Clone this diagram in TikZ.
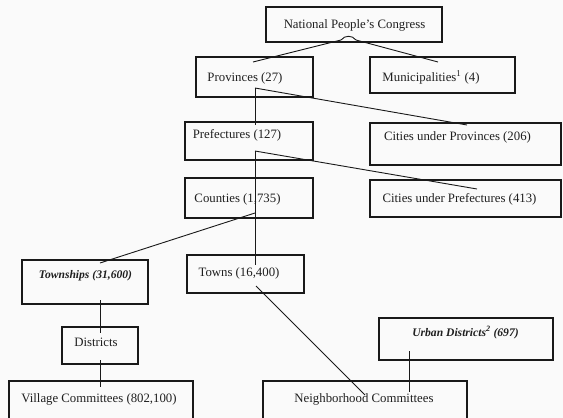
\documentclass[tikz,border=0pt]{standalone}
\usepackage{fontspec}
\setmainfont{Liberation Serif}
\begin{document}
\begin{tikzpicture}[x=1pt,y=-1pt,
  box/.style={draw=black!90, line width=1.1pt, fill=none, inner sep=0pt},
  lbl/.style={inner sep=0pt, anchor=center, text height=0.66em, text depth=0pt, text=black!88, font=\fontsize{12.8}{14}\selectfont},
  lbli/.style={lbl, font=\fontsize{11.6}{13}\selectfont\bfseries\itshape},
  conn/.style={draw=black!90, line width=0.9pt}]
\clip (0,0) rectangle (563,418);
\fill[black!2] (0,0) rectangle (563,418);
% boxes
\node[box, minimum width=176pt, minimum height=35pt] (npc) at (354,24.5) {};
\node[box, minimum width=117pt, minimum height=40pt] (prov) at (254.5,77) {};
\node[box, minimum width=145pt, minimum height=36pt] (muni) at (442.5,75) {};
\node[box, minimum width=128pt, minimum height=38pt] (pref) at (249,141) {};
\node[box, minimum width=191pt, minimum height=42pt] (cprov) at (465.5,144) {};
\node[box, minimum width=128pt, minimum height=40pt] (cnty) at (249,198) {};
\node[box, minimum width=191pt, minimum height=37pt] (cpref) at (465.5,198.5) {};
\node[box, minimum width=126pt, minimum height=44pt] (twp) at (85,282) {};
\node[box, minimum width=117pt, minimum height=38pt] (towns) at (245.5,274) {};
\node[box, minimum width=76pt, minimum height=37pt] (dist) at (100,345.5) {};
\node[box, minimum width=184pt, minimum height=49pt] (vill) at (101,405.5) {};
\node[box, minimum width=204pt, minimum height=49pt] (nbhd) at (365,405.5) {};
\node[box, minimum width=174pt, minimum height=42pt] (urban) at (466,339) {};
% labels
\node[lbl] (tnpc) at (354.5,25) {National People's Congress};
\node[lbl] (tprov) at (245,78) {Provinces (27)};
\node[lbl] (tmuni) at (431,78) {Municipalities\textsuperscript{1} (4)};
\node[lbl] (tpref) at (237,135) {Prefectures (127)};
\node[lbl] (tcprov) at (457.5,137) {Cities under Provinces (206)};
\node[lbl] (tcnty) at (237.5,199) {Counties (1,735)};
\node[lbl] (tcpref) at (459.5,199) {Cities under Prefectures (413)};
\node[lbli] (ttwp) at (85.5,275) {Townships (31,600)};
\node[lbl] (ttowns) at (239,273) {Towns (16,400)};
\node[lbl] (tdist) at (96,343) {Districts};
\node[lbl] (tvill) at (99,399) {Village Committees (802,100)};
\node[lbl] (tnbhd) at (364,399) {Neighborhood Committees};
\node[lbli] (turban) at (465.5,333) {Urban Districts\textsuperscript{2} (697)};
% connector points
\coordinate (npcL) at (341,40);
\coordinate (npcR) at (356,40);
\coordinate (provT) at (253,62);
\coordinate (muniT) at (438,62);
\coordinate (provJ) at (255,88);
\coordinate (prefT) at (255,125);
\coordinate (cprovT) at (467,125);
\coordinate (prefJ) at (255,151);
\coordinate (cprefT) at (477,189);
\coordinate (cntyJ) at (255,213);
\coordinate (twpT) at (100,263);
\coordinate (townsT) at (255,265);
\coordinate (twpB) at (100,300);
\coordinate (distT) at (100,333);
\coordinate (distB) at (100,360);
\coordinate (villT) at (100,387);
\coordinate (townsB) at (256,286);
\coordinate (nbhdT) at (365,395);
\coordinate (urbanB) at (409,351);
\coordinate (nbhdT2) at (409,392);
% connectors
\draw[conn] (provT) -- (npcL) .. controls (345,35) and (352,35) .. (npcR) -- (muniT);
\draw[conn] (provJ) -- (prefT);
\draw[conn] (provJ) -- (cprovT);
\draw[conn] (prefJ) -- (cntyJ);
\draw[conn] (prefJ) -- (cprefT);
\draw[conn] (cntyJ) -- (twpT);
\draw[conn] (cntyJ) -- (townsT);
\draw[conn] (twpB) -- (distT);
\draw[conn] (distB) -- (villT);
\draw[conn] (townsB) -- (nbhdT);
\draw[conn] (urbanB) -- (nbhdT2);
\end{tikzpicture}
\end{document}
